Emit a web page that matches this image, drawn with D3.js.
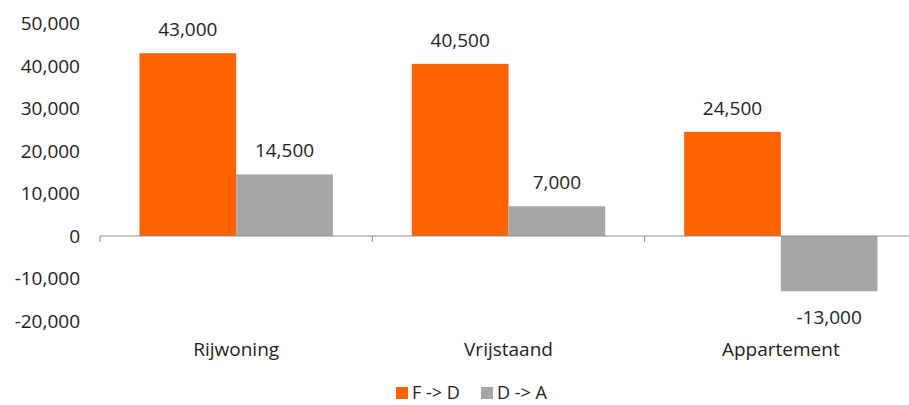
<!DOCTYPE html>
<html>
<head>
<meta charset="utf-8">
<script src="https://cdn.jsdelivr.net/npm/d3@7"></script>
<style>
  body { margin: 0; background: #fff; }
  svg text { font-family: "Open Sans", "Noto Sans", sans-serif; fill: #222; font-size: 19px; }
</style>
</head>
<body>
<svg id="chart" width="909" height="405"></svg>
<script>
// data
const categories = ["Rijwoning", "Vrijstaand", "Appartement"];
const seriesNames = ["F -> D", "D -> A"];
const seriesColors = ["#ff6200", "#a6a6a6"];
const valuesFD = [43000, 40500, 24500];
const valuesDA = [14500, 7000, -13000];
const yTicks = [-20000, -10000, 0, 10000, 20000, 30000, 40000, 50000];

const svg = d3.select("#chart");
// plain hyphen instead of the unicode minus d3 uses
const fmt = v => d3.format(",")(v).replace("\u2212", "-");

const x = d3.scaleBand()
  .domain(categories)
  .range([100, 917]);

const y = d3.scaleLinear()
  .domain([-20000, 50000])
  .range([321, 23.5]);

const inner = d3.scaleBand()
  .domain(seriesNames)
  .range([39.5, x.bandwidth() - 39.5]);

// y tick labels (no axis line)
svg.append("g")
  .selectAll("text")
  .data(yTicks)
  .join("text")
  .attr("x", 80)
  .attr("y", d => y(d))
  .attr("dy", "0.35em")
  .attr("text-anchor", "end")
  .text(d => fmt(d));

const rows = categories.map((c, i) => ({
  cat: c,
  vals: [valuesFD[i], valuesDA[i]]
}));

const groups = svg.append("g")
  .selectAll("g")
  .data(rows)
  .join("g")
  .attr("transform", d => `translate(${x(d.cat)},0)`);

groups.selectAll("rect")
  .data(d => d.vals.map((v, j) => ({ v, s: seriesNames[j], color: seriesColors[j] })))
  .join("rect")
  .attr("x", d => inner(d.s))
  .attr("width", inner.bandwidth())
  .attr("y", d => y(Math.max(0, d.v)))
  .attr("height", d => Math.abs(y(d.v) - y(0)))
  .attr("fill", d => d.color);

groups.selectAll("text.val")
  .data(d => d.vals.map((v, j) => ({ v, s: seriesNames[j] })))
  .join("text")
  .attr("class", "val")
  .attr("x", d => inner(d.s) + inner.bandwidth() / 2)
  .attr("y", d => d.v >= 0 ? y(d.v) - 17 : y(d.v) + 33)
  .attr("text-anchor", "middle")
  .text(d => fmt(d.v));

// x axis at zero
const axisG = svg.append("g")
  .attr("transform", `translate(0,${y(0)})`)
  .call(d3.axisBottom(x).tickSize(0).tickFormat(""));
axisG.select(".domain").attr("stroke", "#8c8c8c").attr("d", "M100,0H917");

// category boundary ticks
const bounds = d3.range(categories.length + 1).map(i => 100 + i * x.bandwidth());
svg.append("g")
  .selectAll("line")
  .data(bounds)
  .join("line")
  .attr("x1", d => d).attr("x2", d => d)
  .attr("y1", y(0)).attr("y2", y(0) + 6)
  .attr("stroke", "#8c8c8c");

// category labels
svg.append("g")
  .selectAll("text")
  .data(categories)
  .join("text")
  .attr("x", d => x(d) + x.bandwidth() / 2)
  .attr("y", 356)
  .attr("text-anchor", "middle")
  .text(d => d);

// legend
const legend = svg.append("g");
const legendX = [396, 481];
seriesNames.forEach((s, i) => {
  legend.append("rect")
    .attr("x", legendX[i]).attr("y", 387)
    .attr("width", 12).attr("height", 12)
    .attr("fill", seriesColors[i]);
  legend.append("text")
    .attr("x", legendX[i] + 16).attr("y", 399)
    .style("font-size", "18px")
    .text(s);
});
</script>
</body>
</html>
